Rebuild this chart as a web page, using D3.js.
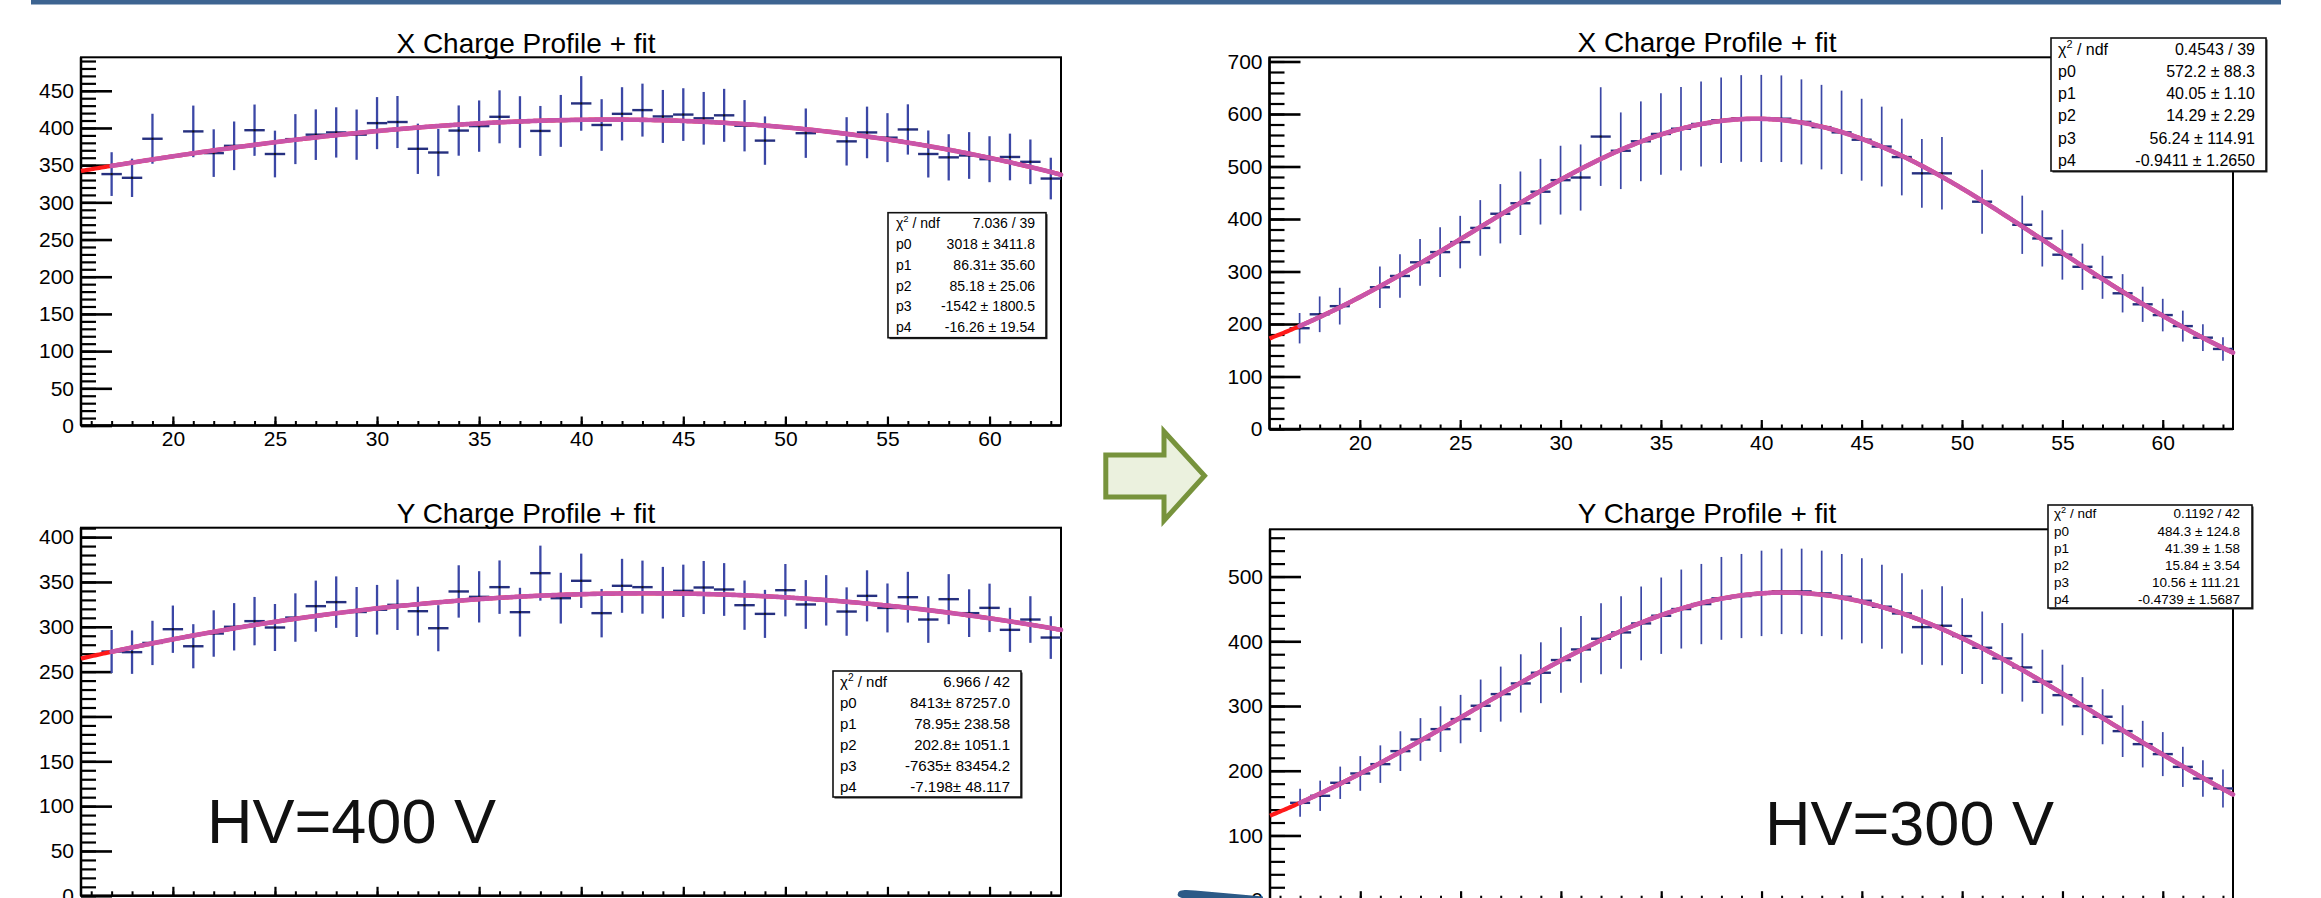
<!DOCTYPE html>
<html><head><meta charset="utf-8">
<script src="https://cdn.jsdelivr.net/npm/d3@7/dist/d3.min.js"></script>
<style>
html,body{margin:0;padding:0;background:#fff;overflow:hidden}
svg{display:block}
text{font-family:"Liberation Sans",Arial,Helvetica,sans-serif}
</style></head><body>
<svg id="c" width="2321" height="898"></svg>
<script>
// ---------------- DATA ----------------
// channels (top panels have dead channels 20, 50, 52)
const channelsTop = [17,18,19,21,22,23,24,25,26,27,28,29,30,31,32,33,34,35,36,37,38,39,40,41,42,43,44,45,46,47,48,49,51,53,54,55,56,57,58,59,60,61,62,63];
const channelsBottom = [17,18,19,20,21,22,23,24,25,26,27,28,29,30,31,32,33,34,35,36,37,38,39,40,41,42,43,44,45,46,47,48,49,50,51,52,53,54,55,56,57,58,59,60,61,62,63];

// HV = 400 V, X profile
const chargeX400 = [338,333,385.5,395.4,366.2,376,397,365,385,391,394,391,406.5,408,372,367,396.5,402.5,415,408,396,409.5,433,404,419,424,415.5,418,413,417,403,383,393,382,394,387,398,365,360.5,363,358,361,354.5,332];
const errX400 = [29.4,25.8,33.6,34.7,32,32.7,34.5,31.4,33.6,34,33.8,33.8,35,35,33.8,31.8,33.8,34.5,35.6,34.7,33.6,34.9,36.7,34.7,35.8,35.6,35.6,35.4,35.4,35.6,34.5,32.5,33.2,32.5,34.7,32.9,33.8,31.6,31.1,31.4,30.9,31.4,30,28];
// HV = 300 V, X profile
const chargeX300 = [192,218.5,234,270,291.5,317.5,337,356,383,410,430,452,474,479,557,530,548,562,572,581,588,591.5,591.5,591,585,575,565,551,538,518,487,487,433,389,363,332,309,289,258.5,237.5,217,196,174,152.5];
const errX300 = [29,34,35,39.5,41.5,44.5,47.5,50,53,56.5,60.5,62.5,65.5,63,94,73,76,77.5,79.5,81,81.5,82.5,83,82.5,81,80.5,79.5,78,76,73,65.5,69,61,55.5,53.5,47.5,44,41,36.5,33.5,31,29.5,25.5,22.5];
// HV = 400 V, Y profile
const chargeY400 = [272.4,271.7,282,297.3,278.3,292.5,300,306.3,299.2,310.3,323,327.5,316.5,319,324.5,317.4,298.4,339.4,333.4,344.2,316.3,359.8,331.9,351.3,315.2,345.7,344.2,338,340.1,343.8,341.6,324.1,314.4,340.8,324.9,329.5,317,334.5,321,333,308.1,330.8,315.2,321.1,296.6,308.1,288];
const errY400 = [24,24.2,24.7,26.4,24.6,25.9,26.4,27,26.2,27,28.5,28.7,27.9,27.7,28.1,27.3,25.7,29.2,28.6,29.8,27.2,30.7,28.3,30.3,27,30.1,29.6,28.8,29.2,29.6,29.4,27.5,26.8,29.2,27.2,28.1,27,28.5,27.3,28.3,26,27.9,26.6,27,24.6,26,23.8];
// HV = 300 V, Y profile
const chargeY300 = [150.4,161.3,181.4,195.8,210.2,230.3,248.3,264.3,279.8,300.4,318.4,334.9,351.4,371,387.4,403.9,413.7,427.6,439.5,449.8,457.5,466.3,469.9,474,477.1,477.1,474,468.8,462.6,453.4,443,421.9,424,408,390,373.5,359.6,337.5,316.8,299.8,283.4,261.2,241.1,225.7,206,188,172.6];
const errY300 = [21.6,23.4,25,26.8,29,30.7,33,35.3,37.4,40.5,42.5,45,47,50.5,51.5,55,56,57,59,61,62,64,65,66,66,66,66,66,65.7,65,62,58,61,58.5,56,54.6,52.8,49.5,47,44.8,42.5,40,36,34,31,28.3,29.4];

// fit parameters (gaus + pol1): p0*exp(-0.5((x-p1)/p2)^2) + p3 + p4*x
const fitX400 = [3018, 86.31, 85.18, -1542, -16.26];
const fitX300 = [572.2, 40.05, 14.29, 56.24, -0.9411];
const fitY400 = [8413, 78.95, 202.8, -7635, -7.198];
const fitY300 = [484.3, 41.39, 15.84, 10.56, -0.4739];

// stats box texts
const statLabels = ["chi2", "p0", "p1", "p2", "p3", "p4"];
const statsX400 = ["7.036 / 39", "3018 \u00b1 3411.8", "86.31\u00b1 35.60", "85.18 \u00b1 25.06", "-1542 \u00b1 1800.5", "-16.26 \u00b1 19.54"];
const statsX300 = ["0.4543 / 39", "572.2 \u00b1 88.3", "40.05 \u00b1 1.10", "14.29 \u00b1 2.29", "56.24 \u00b1 114.91", "-0.9411 \u00b1 1.2650"];
const statsY400 = ["6.966 / 42", "8413\u00b1 87257.0", "78.95\u00b1 238.58", "202.8\u00b1 1051.1", "-7635\u00b1 83454.2", "-7.198\u00b1 48.117"];
const statsY300 = ["0.1192 / 42", "484.3 \u00b1 124.8", "41.39 \u00b1 1.58", "15.84 \u00b1 3.54", "10.56 \u00b1 111.21", "-0.4739 \u00b1 1.5687"];

// axis ticks
const xMajorTicks = [20,25,30,35,40,45,50,55,60];
const xDomain = [15.5, 63.5];
const yMajorX400 = [0,50,100,150,200,250,300,350,400,450];
const yMajorX300 = [0,100,200,300,400,500,600,700];
const yMajorY400 = [0,50,100,150,200,250,300,350,400];
const yMajorY300 = [0,100,200,300,400,500];

const titles = ["X Charge Profile + fit", "X Charge Profile + fit", "Y Charge Profile + fit", "Y Charge Profile + fit"];
const hvLabels = ["HV=400 V", "HV=300 V"];

// ---------------- DRAW ----------------
const svg = d3.select("#c");
svg.append("rect").attr("x",0).attr("y",0).attr("width",2321).attr("height",898).attr("fill","#fff");
// top banner line
svg.append("rect").attr("x",31).attr("y",0).attr("width",2250).attr("height",4.5).attr("fill","#3d6491");

function fitFn(p){ return x => p[0]*Math.exp(-0.5*Math.pow((x-p[1])/p[2],2)) + p[3] + p[4]*x; }

function drawPanel(c){
  const g = svg.append("g");
  const x = d3.scaleLinear().domain(xDomain).range([c.x0, c.x1]);
  const y = d3.scaleLinear().domain([0, c.ymax]).range([c.yb, c.yt]);

  // title
  g.append("text").attr("x", c.tx).attr("y", c.ty).attr("text-anchor","middle")
    .attr("font-size", 28).attr("fill","#000").text(c.title);

  // frame
  g.append("rect").attr("x",c.x0).attr("y",c.yt).attr("width",c.x1-c.x0).attr("height",c.yb-c.yt)
    .attr("fill","none").attr("stroke","#000").attr("stroke-width",2);

  const styleAxis = (sel, w) => {
    sel.select(".domain").remove();
    sel.attr("font-family",null).attr("font-size",null);
    sel.selectAll("line").attr("stroke","#000").attr("stroke-width",w);
    sel.selectAll("text").attr("font-size",21).attr("fill","#000");
  };
  // y minor
  const yMinor = d3.range(0, c.ymax + 1e-6, c.yMinorStep);
  g.append("g").attr("transform",`translate(${c.x0},0)`)
    .call(d3.axisLeft(y).tickValues(yMinor).tickSize(-15).tickFormat(""))
    .call(s => styleAxis(s, 2.2));
  // y major
  g.append("g").attr("transform",`translate(${c.x0},0)`)
    .call(d3.axisLeft(y).tickValues(c.yMajor).tickSize(-31).tickPadding(7).tickFormat(d3.format("d")))
    .call(s => styleAxis(s, 2.6));
  // x minor
  const xMinor = d3.range(16, 64, 1);
  g.append("g").attr("transform",`translate(0,${c.yb})`)
    .call(d3.axisBottom(x).tickValues(xMinor).tickSize(-4.5).tickFormat(""))
    .call(s => styleAxis(s, 2));
  // x major (labels only where the page shows them)
  g.append("g").attr("transform",`translate(0,${c.yb})`)
    .call(d3.axisBottom(x).tickValues(xMajorTicks).tickSize(-9).tickPadding(6)
      .tickFormat(c.xLabels ? d3.format("d") : ""))
    .call(s => styleAxis(s, 2.2));
  // axis lines (thicker left & bottom)
  g.append("line").attr("x1",c.x0).attr("x2",c.x0).attr("y1",c.yt).attr("y2",c.yb).attr("stroke","#000").attr("stroke-width",2.5);
  g.append("line").attr("x1",c.x0).attr("x2",c.x1).attr("y1",c.yb).attr("y2",c.yb).attr("stroke","#000").attr("stroke-width",2.5);

  const pts = c.xs.map((xv,i) => ({x: xv, v: c.vals[i], e: c.errs[i]}));
  // error bars
  g.append("g").selectAll("line").data(pts).join("line")
    .attr("x1", d => x(d.x)).attr("x2", d => x(d.x))
    .attr("y1", d => y(d.v - d.e)).attr("y2", d => y(d.v + d.e))
    .attr("stroke", "#3b47a6").attr("stroke-width", c.barW);
  // bin-width markers
  g.append("g").selectAll("line").data(pts).join("line")
    .attr("x1", d => x(d.x - 0.5)).attr("x2", d => x(d.x + 0.5))
    .attr("y1", d => y(d.v)).attr("y2", d => y(d.v))
    .attr("stroke", "#26307f").attr("stroke-width", 2.4);
  g.append("g").selectAll("rect").data(pts).join("rect")
    .attr("x", d => x(d.x) - 1).attr("y", d => y(d.v) - 1).attr("width",2).attr("height",2).attr("fill","#111");

  // fit curves
  const f = fitFn(c.fit);
  const line = d3.line().x(d => x(d)).y(d => y(f(d)));
  const xsAll = d3.range(xDomain[0], xDomain[1] + 1e-9, 0.1);
  g.append("path").attr("d", line(xsAll)).attr("fill","none").attr("stroke","#ff1a1a").attr("stroke-width",4.2);
  const xsFit = d3.range(17, xDomain[1] + 1e-9, 0.1);
  g.append("path").attr("d", line(xsFit)).attr("fill","none").attr("stroke","#c955a9").attr("stroke-width",4.6).attr("stroke-linecap","round");

  // stats box
  const b = c.box;
  g.append("rect").attr("x",b.x+1.5).attr("y",b.y+1.5).attr("width",b.w).attr("height",b.h).attr("fill","#222");
  g.append("rect").attr("x",b.x).attr("y",b.y).attr("width",b.w).attr("height",b.h)
    .attr("fill","#fff").attr("stroke","#111").attr("stroke-width",1.6);
  const rowH = b.h / 6;
  statLabels.forEach((lab, i) => {
    const by = b.y + (i + 0.5) * rowH + b.fs * 0.36;
    const t = g.append("text").attr("x", b.x + b.padL).attr("y", by).attr("font-size", b.fs).attr("fill","#000");
    if (lab === "chi2") {
      t.append("tspan").text("\u03c7");
      t.append("tspan").attr("dy", -b.fs*0.42).attr("font-size", b.fs*0.68).text("2");
      t.append("tspan").attr("dy", b.fs*0.42).text(" / ndf");
    } else t.text(lab);
    g.append("text").attr("x", b.x + b.w - b.padR).attr("y", by).attr("text-anchor","end")
      .attr("font-size", b.fs).attr("fill","#000").text(c.stats[i]);
  });
}

drawPanel({title: titles[0], tx: 526, ty: 53, x0: 81, x1: 1061, yt: 57.3, yb: 425.5, ymax: 495, xLabels: true,
  yMajor: yMajorX400, yMinorStep: 10, xs: channelsTop, vals: chargeX400, errs: errX400, fit: fitX400, barW: 2.3,
  stats: statsX400, box: {x: 888, y: 212.7, w: 158, h: 125, fs: 14, padL: 8, padR: 11}});
drawPanel({title: titles[1], tx: 1707, ty: 52, x0: 1269.5, x1: 2233, yt: 57.3, yb: 429, ymax: 708, xLabels: true,
  yMajor: yMajorX300, yMinorStep: 20, xs: channelsTop, vals: chargeX300, errs: errX300, fit: fitX300, barW: 1.7,
  stats: statsX300, box: {x: 2051, y: 38, w: 215, h: 133, fs: 16, padL: 7, padR: 11}});
drawPanel({title: titles[2], tx: 526, ty: 523, x0: 81, x1: 1061, yt: 527.7, yb: 895.8, ymax: 410.5, xLabels: false,
  yMajor: yMajorY400, yMinorStep: 10, xs: channelsBottom, vals: chargeY400, errs: errY400, fit: fitY400, barW: 2.3,
  stats: statsY400, box: {x: 833, y: 671, w: 188, h: 126, fs: 15, padL: 7, padR: 11}});
drawPanel({title: titles[3], tx: 1707, ty: 523, x0: 1270, x1: 2233, yt: 529.3, yb: 900.2, ymax: 573, xLabels: false,
  yMajor: yMajorY300, yMinorStep: 20, xs: channelsBottom, vals: chargeY300, errs: errY300, fit: fitY300, barW: 1.7,
  stats: statsY300, box: {x: 2048, y: 505, w: 204, h: 103, fs: 13.5, padL: 6, padR: 12}});

// HV labels
svg.append("text").attr("x",207).attr("y",843).attr("font-size",63).attr("fill","#111").text(hvLabels[0]);
svg.append("text").attr("x",1765).attr("y",845).attr("font-size",63).attr("fill","#111").text(hvLabels[1]);

// arrow
svg.append("path")
  .attr("d","M1105.8,455 L1164,455 L1164,431.5 L1204.5,475.7 L1164,520.5 L1164,497 L1105.8,497 Z")
  .attr("fill","#ebf1de").attr("stroke","#77933c").attr("stroke-width",5).attr("stroke-linejoin","miter");

// bottom decoration swoosh
svg.append("path")
  .attr("d","M1178,893.5 C1178,889.5 1186,889.5 1195,890.5 L1263,896.5 L1263,898 L1182,898 C1178,897 1177,895 1178,893.5 Z")
  .attr("fill","#2c5a87");
</script>
</body></html>
